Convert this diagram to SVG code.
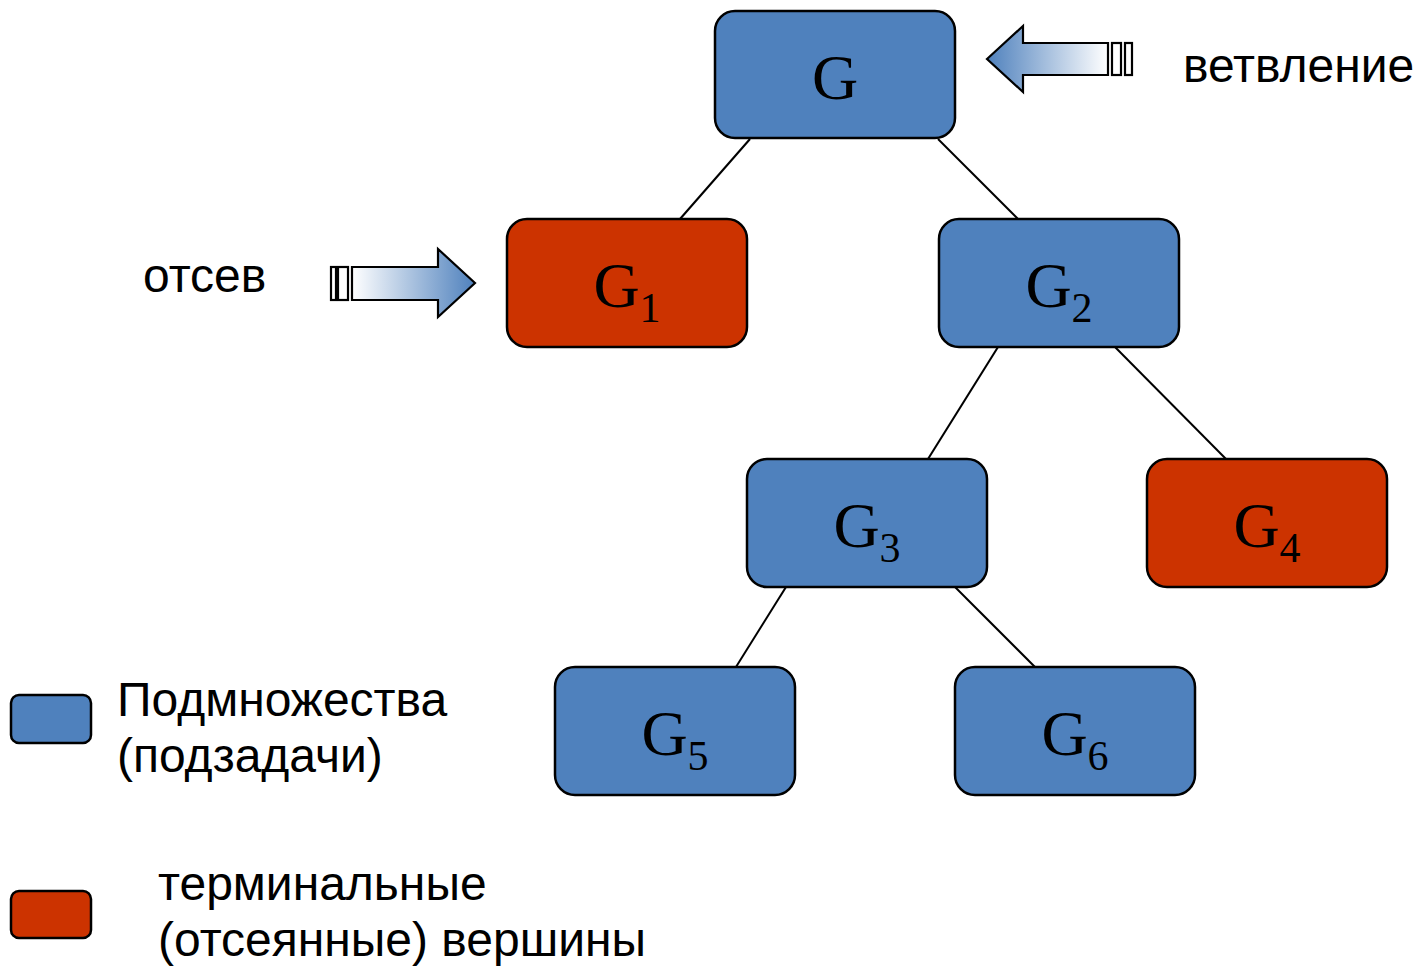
<svg xmlns="http://www.w3.org/2000/svg" width="1418" height="966" viewBox="0 0 1418 966">
<style>
.node{stroke:#000;stroke-width:2.5}
.blue{fill:#4F81BD}
.red{fill:#CC3300}
.lbl{font-family:"Liberation Serif","Times New Roman",serif;font-size:64px;fill:#000;text-anchor:middle}
.sub{font-size:42px}
.txt{font-family:"Liberation Sans",Arial,sans-serif;font-size:48px;fill:#000}
.edge{stroke:#000;stroke-width:2;fill:none}
.arr{stroke:#000;stroke-width:2.2}
</style>
<defs>
<linearGradient id="gl" x1="987" y1="0" x2="1108" y2="0" gradientUnits="userSpaceOnUse">
<stop offset="0" stop-color="#4F81BD"/><stop offset="1" stop-color="#FFFFFF"/>
</linearGradient>
<linearGradient id="gr" x1="352" y1="0" x2="475" y2="0" gradientUnits="userSpaceOnUse">
<stop offset="0" stop-color="#FFFFFF"/><stop offset="1" stop-color="#4F81BD"/>
</linearGradient>
</defs>
<g id="connectors">
<line class="edge" x1="750" y1="139" x2="680" y2="219"/>
<line class="edge" x1="938" y1="139" x2="1018" y2="219"/>
<line class="edge" x1="998" y1="347" x2="928" y2="459"/>
<line class="edge" x1="1115" y1="347" x2="1226" y2="459"/>
<line class="edge" x1="786" y1="587" x2="736" y2="667"/>
<line class="edge" x1="955" y1="587" x2="1035" y2="667"/>
</g>
<g id="node-G"><rect class="node blue" x="715" y="11" width="240" height="127" rx="20"/><text class="lbl" x="835" y="99">G</text></g>
<g id="node-G1"><rect class="node red" x="507" y="219" width="240" height="128" rx="20"/><text class="lbl" x="627" y="307">G<tspan class="sub" dy="15">1</tspan></text></g>
<g id="node-G2"><rect class="node blue" x="939" y="219" width="240" height="128" rx="20"/><text class="lbl" x="1059" y="307">G<tspan class="sub" dy="15">2</tspan></text></g>
<g id="node-G3"><rect class="node blue" x="747" y="459" width="240" height="128" rx="20"/><text class="lbl" x="867" y="547">G<tspan class="sub" dy="15">3</tspan></text></g>
<g id="node-G4"><rect class="node red" x="1147" y="459" width="240" height="128" rx="20"/><text class="lbl" x="1267" y="547">G<tspan class="sub" dy="15">4</tspan></text></g>
<g id="node-G5"><rect class="node blue" x="555" y="667" width="240" height="128" rx="20"/><text class="lbl" x="675" y="755">G<tspan class="sub" dy="15">5</tspan></text></g>
<g id="node-G6"><rect class="node blue" x="955" y="667" width="240" height="128" rx="20"/><text class="lbl" x="1075" y="755">G<tspan class="sub" dy="15">6</tspan></text></g>
<g id="arrow-branch">
<path class="arr" fill="url(#gl)" d="M987,59 L1023,26 L1023,43 L1108,43 L1108,75 L1023,75 L1023,92 Z"/>
<rect class="arr" fill="#fff" x="1112" y="43" width="9" height="32"/>
<rect class="arr" fill="#fff" x="1125" y="43" width="7" height="32"/>
</g>
<g id="arrow-prune">
<path class="arr" fill="url(#gr)" d="M475,283 L438,249 L438,267 L352,267 L352,300 L438,300 L438,317 Z"/>
<rect class="arr" fill="#fff" x="338" y="267" width="10" height="33"/>
<rect class="arr" fill="#fff" x="331" y="267" width="5" height="33"/>
</g>
<text class="txt" x="1183" y="82">ветвление</text>
<text class="txt" x="143" y="292">отсев</text>
<g id="legend-blue"><rect class="node blue" x="11" y="695" width="80" height="48" rx="8"/></g>
<text class="txt" x="117" y="716">Подмножества</text>
<text class="txt" x="117" y="772">(подзадачи)</text>
<g id="legend-red"><rect class="node red" x="11" y="891" width="80" height="47" rx="8"/></g>
<text class="txt" x="158" y="900">терминальные</text>
<text class="txt" x="158" y="956">(отсеянные) вершины</text>
</svg>
